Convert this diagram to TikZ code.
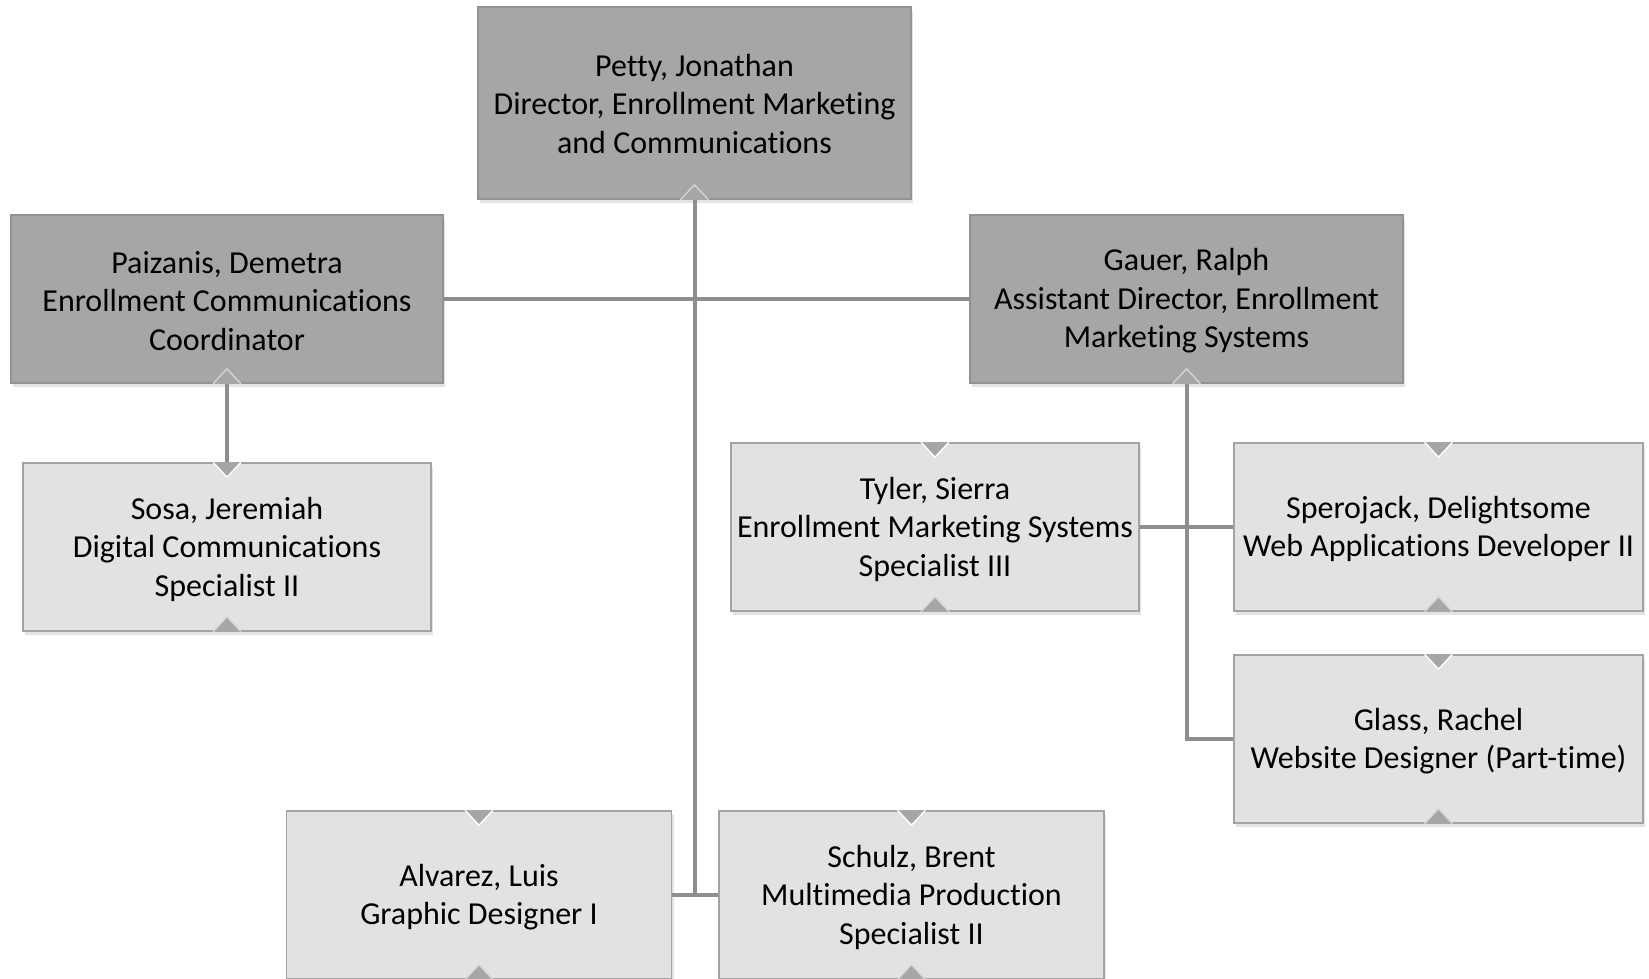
\documentclass[tikz,border=0pt]{standalone}
\usepackage{fontspec}
\setmainfont[Ligatures=NoCommon]{Carlito}
\usetikzlibrary{shadows}
\definecolor{darkbox}{HTML}{A6A6A6}
\definecolor{lightbox}{HTML}{E2E2E2}
\definecolor{darkedge}{HTML}{929292}
\definecolor{lightedge}{HTML}{A3A3A3}
\definecolor{linec}{HTML}{8E8E8E}
\definecolor{notchedge}{HTML}{D4D4D4}
\tikzset{
  box/.style={rectangle, inner sep=0pt, line width=1.6pt,
    drop shadow={opacity=0.22, shadow xshift=2pt, shadow yshift=-4pt}},
  darkb/.style={box, fill=darkbox, draw=darkedge, minimum height=168pt},
  lightb/.style={box, fill=lightbox, draw=lightedge, minimum height=168pt},
  txt/.style={align=center, inner sep=0pt, text=black,
    font=\fontsize{32}{38.5}\selectfont},
  conn/.style={draw=linec, line width=4pt},
  upnotch/.style={fill=darkbox, draw=notchedge, line width=1.4pt},
  downnotch/.style={fill=darkbox, draw=white, line width=1.4pt}
}
\begin{document}
\begin{tikzpicture}[x=1pt, y=-1pt]
\useasboundingbox (0,0) rectangle (1649,979);
\fill[white] (0,0) rectangle (1649,979);

% boxes
\node[darkb, minimum width=433pt, minimum height=192pt] (petty) at (694.5,103) {};
\node[darkb, minimum width=432pt] (paiz) at (227,299) {};
\node[darkb, minimum width=433pt] (gauer) at (1186.5,299) {};
\node[lightb, minimum width=408pt] (sosa) at (227,547) {};
\node[lightb, minimum width=408pt] (tyler) at (935,527) {};
\node[lightb, minimum width=409pt] (spero) at (1438.5,527) {};
\node[lightb, minimum width=409pt] (glass) at (1438.5,739) {};
\node[lightb, minimum width=385pt] (alvarez) at (479,895) {};
\node[lightb, minimum width=385pt] (schulz) at (911.5,895) {};

% texts
\node[txt] (pettyt) at ([yshift=-1pt]petty.center) {Petty, Jonathan\\Director, Enrollment Marketing\\and Communications};
\node[txt] (paizt) at ([yshift=-2pt]paiz.center) {Paizanis, Demetra\\Enrollment Communications\\Coordinator};
\node[txt] (gauert) at ([yshift=-2pt]gauer.center) {Gauer, Ralph\\Assistant Director, Enrollment\\Marketing Systems};
\node[txt] (sosat) at ([yshift=-2pt]sosa.center) {Sosa, Jeremiah\\Digital Communications\\Specialist II};
\node[txt] (tylert) at ([yshift=-2pt]tyler.center) {Tyler, Sierra\\Enrollment Marketing Systems\\Specialist III};
\node[txt] (sperot) at ([yshift=-2pt]spero.center) {Sperojack, Delightsome\\Web Applications Developer II};
\node[txt] (glasst) at ([yshift=-2pt]glass.center) {Glass, Rachel\\Website Designer (Part-time)};
\node[txt] (alvarezt) at ([yshift=-2pt]alvarez.center) {Alvarez, Luis\\Graphic Designer I};
\node[txt] (schulzt) at ([yshift=-2pt]schulz.center) {Schulz, Brent\\Multimedia Production\\Specialist II};

% connectors
\coordinate (pettyend) at (petty.south |- alvarez.east);
\draw[conn] (petty.south) -- (pettyend);
\draw[conn] (alvarez.east) -- (schulz.west);
\draw[conn] (paiz.east) -- (gauer.west);
\draw[conn] (paiz.south) -- (sosa.north);
\draw[conn] (gauer.south) -- (gauer.south |- glass.west) -- (glass.west);
\draw[conn] (tyler.east) -- (spero.west);

% notches at bottom of boxes (pointing up)
\foreach \n in {petty,paiz,gauer,sosa,tyler,spero,glass,alvarez,schulz}{
  \draw[upnotch] ([xshift=-14pt]\n.south) -- ([yshift=15pt]\n.south) -- ([xshift=14pt]\n.south);
}
% notches at top of child boxes (pointing down)
\foreach \n in {sosa,tyler,spero,glass,alvarez,schulz}{
  \draw[downnotch] ([xshift=-14pt]\n.north) -- ([yshift=-15pt]\n.north) -- ([xshift=14pt]\n.north);
}
\end{tikzpicture}
\end{document}
